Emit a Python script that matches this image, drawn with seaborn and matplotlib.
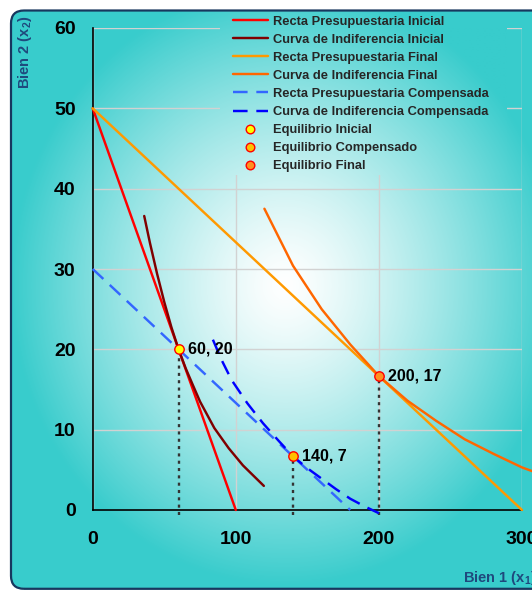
import numpy as np
import matplotlib
matplotlib.use("Agg")
import matplotlib.pyplot as plt
from matplotlib.patches import FancyBboxPatch, Rectangle
from matplotlib.lines import Line2D
import seaborn as sns

# ---- data -------------------------------------------------------------
# budget lines
bl_ini_x = [0, 100]
bl_ini_y = [50, 0]
bl_fin_x = [0, 300]
bl_fin_y = [50, 0]
bl_comp_x = [0, 180]
bl_comp_y = [30, 0]

# indifference curves
ic_ini_x = [36, 40, 45, 50, 55, 60, 65, 70, 75, 85, 95, 105, 119.6]
ic_ini_y = [36.6, 33.25, 29.4, 25.9, 22.75, 20, 17.63, 15.55, 13.5, 10.2, 7.7, 5.55, 3.0]
ic_fin_x = [120, 140, 160, 180, 200, 220, 240, 260, 280, 300, 320]
ic_fin_y = [37.5, 30.4, 25.0, 20.6, 16.67, 13.6, 11.1, 8.8, 7.0, 5.3, 4.0]
ic_comp_x = [84, 90, 97, 108, 119, 130, 140, 150, 160, 170, 180, 190, 200]
ic_comp_y = [21.2, 18.7, 16.2, 13.3, 10.8, 8.6, 6.67, 5.2, 3.9, 2.6, 1.4, 0.45, -0.4]

# equilibrium points
eq_x = [60, 140, 200]
eq_y = [20, 6.67, 16.67]
eq_names = ["Equilibrio Inicial", "Equilibrio Compensado", "Equilibrio Final"]

line_names = ["Recta Presupuestaria Inicial", "Curva de Indiferencia Inicial",
              "Recta Presupuestaria Final", "Curva de Indiferencia Final",
              "Recta Presupuestaria Compensada", "Curva de Indiferencia Compensada"]

x_ticks = [0, 100, 200, 300]
y_ticks = [0, 10, 20, 30, 40, 50, 60]

# ---- style ------------------------------------------------------------
sns.set_theme(style="white")
plt.rcParams["font.family"] = ["Liberation Sans", "DejaVu Sans"]
plt.rcParams["font.weight"] = "bold"
plt.rcParams["mathtext.fontset"] = "custom"
plt.rcParams["mathtext.rm"] = "Liberation Sans:bold"
plt.rcParams["mathtext.it"] = "Liberation Sans:bold"
plt.rcParams["mathtext.bf"] = "Liberation Sans:bold"

line_colors = ["#FF0000", "#800000", "#FF9900", "#FF6600", "#3366FF", "#0000FF"]
dash = (0, (6.0, 3.6))
line_styles = ["-", "-", "-", "-", dash, dash]
eq_fill = ["#FFFF00", "#FFC000", "#FF9020"]
teal = np.array([56, 204, 204]) / 255.0
label_blue = "#1F497D"

W, H = 532, 590
fig = plt.figure(figsize=(W / 100, H / 100), dpi=100)
fig.patch.set_facecolor("white")

# gradient backdrop (white centre fading to teal)
yy, xx = np.mgrid[0:H, 0:W].astype(float)
t = np.sqrt(((xx - 285) / 275.0) ** 2 + ((yy - 285) / 300.0) ** 2)
s = np.clip(t, 0, 1) ** 1.3
grad = (1 - s)[..., None] * np.ones(3) + s[..., None] * teal

bg = fig.add_axes([0, 0, 1, 1], zorder=-2)
bg.set_axis_off()
img = bg.imshow(grad, extent=(0, W, 0, H), origin="upper", aspect="auto",
                interpolation="bilinear")
bg.set_xlim(0, W)
bg.set_ylim(0, H)
frame = FancyBboxPatch((11, 1.2), W + 40, H - 10.5 - 1.2,
                       boxstyle="round,pad=0,rounding_size=13",
                       facecolor="none", edgecolor="#17375E", lw=1.6,
                       transform=bg.transData)
bg.add_patch(frame)
img.set_clip_path(frame)

# ---- main axes --------------------------------------------------------
ax = fig.add_axes([92.7 / W, 80 / H, 429.3 / W, 482 / H])
ax.set_facecolor("none")
ax.set_axisbelow(True)
ax.grid(True, color="#D2D2D2", lw=1.0)

# hide grid under the legend block by repainting the backdrop there
cover = ax.imshow(grad, extent=(0, 1, 0, 1), transform=fig.transFigure,
                  origin="upper", aspect="auto", interpolation="bilinear",
                  zorder=0.8)
cover.set_clip_path(Rectangle((0.2965, 0.695), 0.667, 0.305,
                              transform=ax.transAxes))

series = [(bl_ini_x, bl_ini_y), (ic_ini_x, ic_ini_y), (bl_fin_x, bl_fin_y),
          (ic_fin_x, ic_fin_y), (bl_comp_x, bl_comp_y), (ic_comp_x, ic_comp_y)]
lw = 1.75
for (xs, ys), c, ls in zip(series, line_colors, line_styles):
    sns.lineplot(x=xs, y=ys, ax=ax, color=c, lw=lw, linestyle=ls,
                 estimator=None, sort=False, clip_on=False, zorder=3)

# drop lines from each equilibrium to the x axis
ax.vlines(eq_x, -0.6, eq_y, colors="#333333", linestyles=(0, (1.3, 1.8)),
          lw=1.7, zorder=2, clip_on=False)

for x, y, fc in zip(eq_x, eq_y, eq_fill):
    sns.scatterplot(x=[x], y=[y], ax=ax, color=fc, edgecolor="#FF0000",
                    linewidth=1.0, s=46, zorder=5, clip_on=False)
    ax.annotate(f"{x:.0f}, {y:.0f}", (x, y), xytext=(6.5, 0),
                textcoords="offset points", ha="left", va="center",
                fontsize=11.5, fontweight="bold", color="black", zorder=6)

ax.set_xlim(0, 300)
ax.set_ylim(0, 60)
ax.set_xticks(x_ticks)
ax.set_yticks(y_ticks)
ax.tick_params(axis="both", labelsize=14, colors="black", width=1.0,
               length=4.3, direction="out")
ax.tick_params(axis="x", pad=11)
ax.tick_params(axis="y", pad=8)
for lab in ax.get_xticklabels() + ax.get_yticklabels():
    lab.set_fontweight("bold")
for side in ("top", "right"):
    ax.spines[side].set_visible(False)
for side in ("left", "bottom"):
    ax.spines[side].set_color("black")
    ax.spines[side].set_linewidth(1.2)

ax.set_xlabel("Bien 1 (x$_1$)", fontsize=10.5, fontweight="bold",
              color=label_blue, ha="left", va="center")
ax.xaxis.set_label_coords((463 - 92.7) / 429.3, (510 - 578) / 482)
ax.set_ylabel("Bien 2 (x$_2$)", fontsize=10.5, fontweight="bold",
              color=label_blue, ha="right", va="center")
ax.yaxis.set_label_coords((25 - 92.7) / 429.3, (510 - 16) / 482)

# ---- legend -----------------------------------------------------------
handles = [Line2D([], [], color=c, lw=lw, linestyle=ls)
           for c, ls in zip(line_colors, line_styles)]
handles += [Line2D([], [], linestyle="none", marker="o", markersize=6.2,
                   markerfacecolor=fc, markeredgecolor="#FF0000",
                   markeredgewidth=1.0) for fc in eq_fill]
fig.legend(handles, line_names + eq_names, loc="upper left",
           bbox_to_anchor=(233 / W, 1 - 15.5 / H), frameon=False,
           prop={"weight": "bold", "size": 9.3}, handlelength=2.7,
           handletextpad=0.4, labelspacing=0.47, borderpad=0,
           borderaxespad=0)

fig.savefig("out.png", dpi=100)
